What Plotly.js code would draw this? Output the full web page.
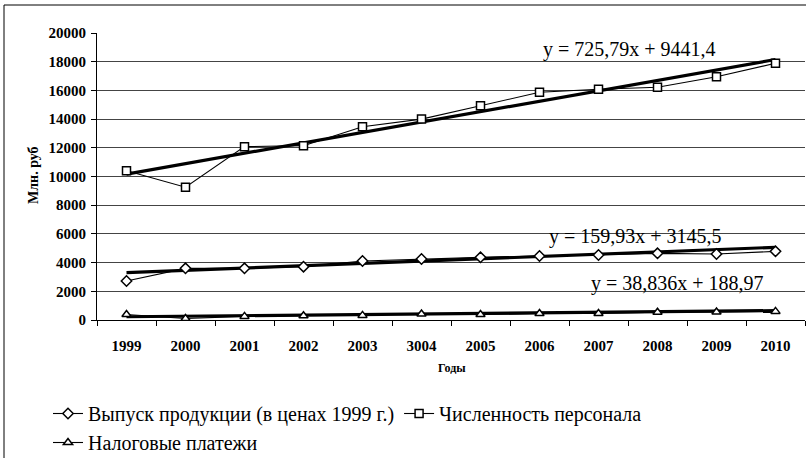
<!DOCTYPE html>
<html><head><meta charset="utf-8">
<script src="https://cdn.plot.ly/plotly-3.0.1.min.js"></script>
<style>html,body{margin:0;padding:0;background:#fff}#c{width:808px;height:459px}</style>
</head><body><div id="c"></div>
<script>
const years = ["1999","2000","2001","2002","2003","3004","2005","2006","2007","2008","2009","2010"];
const output = [2718,3600,3600,3716,4111,4250,4367,4460,4530,4645,4600,4785];
const staff = [10400,9250,12080,12150,13470,14000,14930,15870,16080,16220,16950,17890];
const taxes = [380,100,250,300,320,420,380,450,450,540,560,600];
const seriesNames = ["Выпуск продукции (в ценах 1999 г.)","Численность персонала","Налоговые платежи"];
const trendSlope = [159.93,725.79,38.836];
const trendIntercept = [3145.5,9441.4,188.97];
const trendLabels = ["y = 159,93x + 3145,5","y = 725,79x + 9441,4","y = 38,836x + 188,97"];
const yTicks = [0,2000,4000,6000,8000,10000,12000,14000,16000,18000,20000];

const W=808, H=459, L=97, R=3, T=33, B=139, PW=W-L-R, PH=H-T-B;
const px = x => (x-L)/PW, py = y => (H-B-y)/PH;
const cx = x => x/W, cy = y => 1-y/H;

const serif = "Liberation Serif";
const vals=[output,staff,taxes];
const syms=["diamond","square","triangle-up"];
const traces=[];
vals.forEach((v,i)=>{
  traces.push({x:years,y:years.map((_,k)=>trendSlope[i]*(k+1)+trendIntercept[i]),type:"scatter",mode:"lines",
    line:{color:"#000",width:3.2},showlegend:false,hoverinfo:"skip"});
});
vals.forEach((v,i)=>{
  traces.push({x:years,y:v,type:"scatter",mode:"lines+markers",name:seriesNames[i],
    legend: i===2?"legend2":"legend",
    line:{color:"#000",width:1.1},
    marker:{symbol:syms[i],size:8,color:"#fff",line:{color:"#000",width:1.5}}});
});

const ann = (x,y,text,size,extra) => Object.assign({xref:"paper",yref:"paper",x:px(x),y:py(y),xanchor:"center",yanchor:"middle",
  text:text,showarrow:false,font:{family:serif,size:size,color:"#000"}},extra||{});

const layout={
  width:W,height:H,margin:{l:L,r:R,t:T,b:B,autoexpand:false},
  paper_bgcolor:"#fff",plot_bgcolor:"#fff",
  font:{family:serif,color:"#000"},
  xaxis:{type:"category",range:[-0.5,11.5],tickson:"boundaries",ticks:"outside",ticklen:5,tickcolor:"#000",
    showline:true,linecolor:"#000",linewidth:1,showgrid:false,ticklabelstandoff:12,automargin:false,
    tickfont:{family:serif,size:15,weight:"bold",color:"#000"}},
  yaxis:{range:[0,20000],tickvals:yTicks,ticktext:yTicks.map(String),ticks:"outside",ticklen:5,tickcolor:"#000",
    showline:true,linecolor:"#000",linewidth:1,showgrid:true,gridcolor:"#444",gridwidth:1,zeroline:false,
    ticklabelstandoff:2,automargin:false,
    tickfont:{family:serif,size:15,weight:"bold",color:"#000"}},
  legend:{orientation:"h",xref:"container",yref:"container",x:cx(48),y:cy(394),xanchor:"left",yanchor:"top",
    font:{family:serif,size:20,color:"#000"},itemwidth:30,tracegroupgap:0,bgcolor:"rgba(0,0,0,0)"},
  legend2:{orientation:"h",xref:"container",yref:"container",x:cx(48),y:cy(423),xanchor:"left",yanchor:"top",
    font:{family:serif,size:20,color:"#000"},itemwidth:30,bgcolor:"rgba(0,0,0,0)"},
  annotations:[
    ann(629,49,trendLabels[1],20),
    ann(635,236,trendLabels[0],20),
    ann(677,283,trendLabels[2],20),
    Object.assign(ann(33,175,"Млн. руб",14),{textangle:-90,font:{family:serif,size:14,weight:"bold",color:"#000"}}),
    Object.assign(ann(452,368,"Годы",12),{font:{family:serif,size:12,weight:"bold",color:"#000"}})
  ],
  shapes:[
    {type:"line",xref:"paper",yref:"paper",x0:px(4),x1:px(806),y0:py(5),y1:py(5),line:{color:"#000",width:1}},
    {type:"line",xref:"paper",yref:"paper",x0:px(4),x1:px(4),y0:py(5),y1:py(458),line:{color:"#000",width:1}}
  ]
};
Plotly.newPlot("c",traces,layout,{displayModeBar:false,staticPlot:true});
</script></body></html>
